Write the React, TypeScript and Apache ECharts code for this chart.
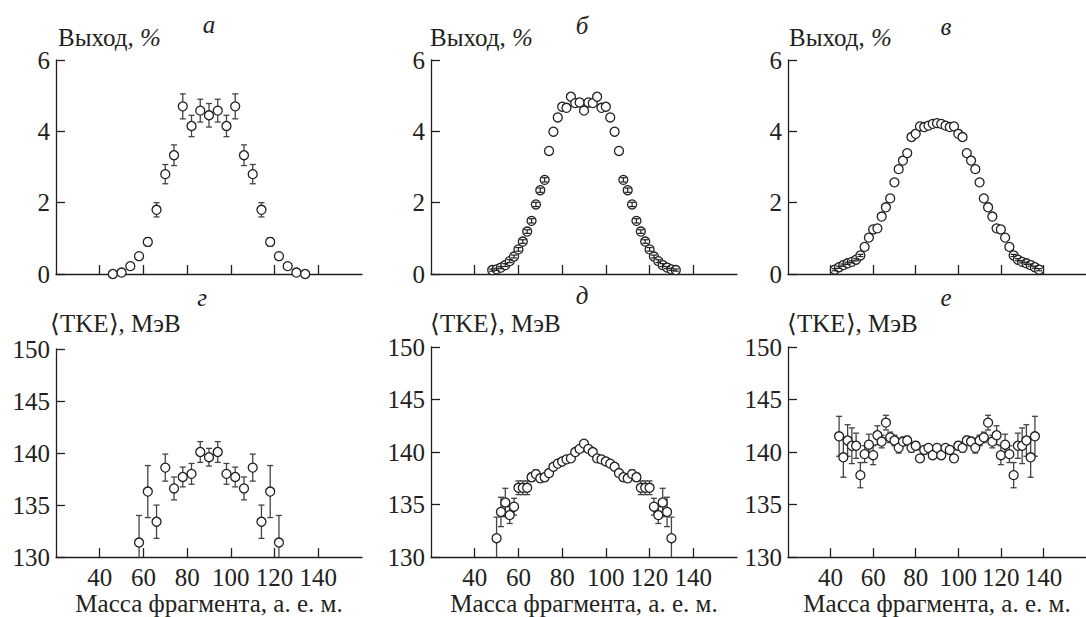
import React, { useEffect, useRef } from "react";
import * as echarts from "echarts";

// ---- data ----
const massA = [46, 50, 54, 58, 62, 66, 70, 74, 78, 82, 86, 90, 94, 98, 102, 106, 110, 114, 118, 122, 126, 130, 134];
const yieldA = [0, 0.04, 0.22, 0.5, 0.9, 1.8, 2.8, 3.33, 4.7, 4.15, 4.58, 4.45, 4.58, 4.15, 4.7, 3.33, 2.8, 1.8, 0.9, 0.5, 0.22, 0.04, 0];
const errA = [0.02, 0.03, 0.05, 0.07, 0.12, 0.2, 0.27, 0.29, 0.35, 0.3, 0.32, 0.33, 0.32, 0.3, 0.35, 0.29, 0.27, 0.2, 0.12, 0.07, 0.05, 0.03, 0.02];

const massB = [48, 50, 52, 54, 56, 58, 60, 62, 64, 66, 68, 70, 72, 74, 76, 78, 80, 82, 84, 86, 88, 90, 92, 94, 96, 98, 100, 102, 104, 106, 108, 110, 112, 114, 116, 118, 120, 122, 124, 126, 128, 130, 132];
const yieldB = [0.11, 0.13, 0.18, 0.25, 0.36, 0.49, 0.69, 0.91, 1.19, 1.49, 1.95, 2.35, 2.64, 3.45, 3.99, 4.39, 4.69, 4.66, 4.97, 4.79, 4.81, 4.58, 4.81, 4.79, 4.97, 4.66, 4.69, 4.39, 3.99, 3.45, 2.64, 2.35, 1.95, 1.49, 1.19, 0.91, 0.69, 0.49, 0.36, 0.25, 0.18, 0.13, 0.11];
const errB = [0.03, 0.03, 0.03, 0.04, 0.04, 0.04, 0.05, 0.05, 0.05, 0.06, 0.06, 0.06, 0.06, 0, 0, 0, 0, 0, 0, 0, 0, 0, 0, 0, 0, 0, 0, 0, 0, 0, 0.06, 0.06, 0.06, 0.06, 0.05, 0.05, 0.05, 0.04, 0.04, 0.04, 0.03, 0.03, 0.03];

const massC = [42, 44, 46, 48, 50, 52, 54, 56, 58, 60, 62, 64, 66, 68, 70, 72, 74, 76, 78, 80, 82, 84, 86, 88, 90, 92, 94, 96, 98, 100, 102, 104, 106, 108, 110, 112, 114, 116, 118, 120, 122, 124, 126, 128, 130, 132, 134, 136, 138];
const yieldC = [0.12, 0.19, 0.25, 0.3, 0.34, 0.4, 0.52, 0.76, 1.02, 1.25, 1.28, 1.61, 1.87, 2.12, 2.57, 2.94, 3.18, 3.39, 3.84, 3.93, 4.14, 4.12, 4.16, 4.21, 4.23, 4.21, 4.16, 4.12, 4.14, 3.93, 3.84, 3.39, 3.18, 2.94, 2.57, 2.12, 1.87, 1.61, 1.28, 1.25, 1.02, 0.76, 0.52, 0.4, 0.34, 0.3, 0.25, 0.19, 0.12];
const errC = [0.03, 0.03, 0.03, 0.03, 0.03, 0.03, 0.03, 0, 0, 0, 0, 0, 0, 0, 0, 0, 0, 0, 0, 0, 0, 0, 0, 0, 0, 0, 0, 0, 0, 0, 0, 0, 0, 0, 0, 0, 0, 0, 0, 0, 0, 0, 0.03, 0.03, 0.03, 0.03, 0.03, 0.03, 0.03];

const massG = [58, 62, 66, 70, 74, 78, 82, 86, 90, 94, 98, 102, 106, 110, 114, 118, 122];
const tkeG = [131.4, 136.3, 133.4, 138.6, 136.6, 137.7, 138.0, 140.1, 139.6, 140.1, 138.0, 137.7, 136.6, 138.6, 133.4, 136.3, 131.4];
const errG = [2.6, 2.5, 1.6, 1.3, 1.1, 0.95, 1.0, 1.0, 0.85, 1.0, 1.0, 0.95, 1.1, 1.3, 1.6, 2.5, 2.6];

const massD = [50, 52, 54, 56, 58, 60, 62, 64, 66, 68, 70, 72, 74, 76, 78, 80, 82, 84, 86, 88, 90, 92, 94, 96, 98, 100, 102, 104, 106, 108, 110, 112, 114, 116, 118, 120, 122, 124, 126, 128, 130];
const tkeD = [131.8, 134.3, 135.2, 134.0, 134.8, 136.6, 136.6, 136.6, 137.6, 137.9, 137.5, 137.6, 138.0, 138.6, 138.9, 139.1, 139.3, 139.4, 140.0, 140.3, 140.8, 140.3, 140.0, 139.4, 139.3, 139.1, 138.9, 138.6, 138.0, 137.6, 137.5, 137.9, 137.6, 136.6, 136.6, 136.6, 134.8, 134.0, 135.2, 134.3, 131.8];
const errD = [2.0, 1.4, 1.35, 0.8, 0.8, 0.65, 0.65, 0.65, 0.4, 0.4, 0.35, 0.35, 0.3, 0.3, 0.3, 0.3, 0.25, 0.25, 0.25, 0.25, 0.25, 0.25, 0.25, 0.25, 0.25, 0.3, 0.3, 0.3, 0.3, 0.35, 0.35, 0.4, 0.4, 0.65, 0.65, 0.65, 0.8, 0.8, 1.35, 1.4, 2.0];

const massE = [44, 46, 48, 50, 52, 54, 56, 58, 60, 62, 64, 66, 68, 70, 72, 74, 76, 78, 80, 82, 84, 86, 88, 90, 92, 94, 96, 98, 100, 102, 104, 106, 108, 110, 112, 114, 116, 118, 120, 122, 124, 126, 128, 130, 132, 134, 136];
const tkeE = [141.5, 139.5, 141.1, 140.6, 140.6, 137.8, 139.8, 140.7, 139.7, 141.6, 141.0, 142.8, 141.4, 141.1, 140.4, 141.0, 141.1, 140.4, 140.6, 139.4, 140.2, 140.4, 139.7, 140.4, 139.7, 140.4, 140.2, 139.4, 140.6, 140.4, 141.1, 141.0, 140.4, 141.1, 141.4, 142.8, 141.0, 141.6, 139.7, 140.7, 139.8, 137.8, 140.6, 140.6, 141.1, 139.5, 141.5];
const errE = [1.9, 1.9, 1.5, 1.7, 1.2, 1.2, 0.8, 1.0, 0.9, 0.9, 0.6, 0.7, 0.5, 0.5, 0.5, 0.4, 0.4, 0.4, 0.4, 0.35, 0.3, 0.3, 0.3, 0.3, 0.3, 0.3, 0.3, 0.35, 0.4, 0.4, 0.4, 0.4, 0.5, 0.5, 0.5, 0.7, 0.6, 0.9, 0.9, 1.0, 0.8, 1.2, 1.2, 1.7, 1.5, 1.9, 1.9];

const xTicks = [40, 60, 80, 100, 120, 140];
const panelLetters = ["а", "б", "в", "г", "д", "е"];
const yNameTop = "Выход, ";
const yNameBottom = "⟨TKE⟩, МэВ";
const xName = "Масса фрагмента, а. е. м.";

const INK = "#231f20";
const FONT = "Liberation Serif";
const FS = 25;

type Panel = { mass: number[]; val: number[]; err: number[]; barsOnTop: boolean };
const panels: Panel[] = [
  { mass: massA, val: yieldA, err: errA, barsOnTop: false },
  { mass: massB, val: yieldB, err: errB, barsOnTop: true },
  { mass: massC, val: yieldC, err: errC, barsOnTop: true },
  { mass: massG, val: tkeG, err: errG, barsOnTop: false },
  { mass: massD, val: tkeD, err: errD, barsOnTop: false },
  { mass: massE, val: tkeE, err: errE, barsOnTop: false },
];

const grids = [
  { left: 56, top: 60, width: 306, height: 214 },
  { left: 431, top: 60, width: 306, height: 214 },
  { left: 788, top: 60, width: 306, height: 214 },
  { left: 56, top: 349, width: 306, height: 210 },
  { left: 431, top: 347, width: 306, height: 212 },
  { left: 788, top: 347, width: 306, height: 212 },
];

export default function App() {
  const ref = useRef<HTMLDivElement>(null);
  useEffect(() => {
    if (!ref.current) return;
    const chart = echarts.init(ref.current, undefined, { renderer: "svg" });

    const xAxis = grids.map((_, i) => ({
      gridIndex: i,
      type: "value",
      min: 20,
      max: 160,
      interval: 20,
      axisLine: { onZero: false, lineStyle: { color: INK, width: 1.3 } },
      axisTick: { inside: true, length: 9, customValues: xTicks, lineStyle: { color: INK, width: 1.3 } },
      axisLabel: {
        show: i >= 3,
        customValues: xTicks,
        color: INK,
        fontFamily: FONT,
        fontSize: FS,
        margin: 8,
      },
      splitLine: { show: false },
      name: i >= 3 ? xName : "",
      nameLocation: "middle",
      nameGap: 31,
      nameTextStyle: { color: INK, fontFamily: FONT, fontSize: FS },
    }));

    const yAxis = grids.map((_, i) => ({
      gridIndex: i,
      type: "value",
      min: i < 3 ? 0 : 130,
      max: i < 3 ? 6 : 150,
      interval: i < 3 ? 2 : 5,
      axisLine: { show: true, onZero: false, lineStyle: { color: INK, width: 1.3 } },
      axisTick: { show: true, inside: true, length: 9, lineStyle: { color: INK, width: 1.3 } },
      axisLabel: { color: INK, fontFamily: FONT, fontSize: FS, margin: 6 },
      splitLine: { show: false },
    }));

    const series: any[] = [];
    panels.forEach((p, i) => {
      const barData = p.mass
        .map((m, k) => [m, p.val[k] - p.err[k], p.val[k] + p.err[k], p.err[k]])
        .filter((d) => d[3] > 0);
      series.push({
        type: "custom",
        xAxisIndex: i,
        yAxisIndex: i,
        clip: true,
        z: p.barsOnTop ? 5 : 2,
        silent: true,
        encode: { x: 0, y: [1, 2] },
        data: barData,
        renderItem: (params: any, api: any) => {
          const x = api.value(0);
          const lo = api.value(1);
          const hi = api.value(2);
          const a = api.coord([x, hi]);
          const b = api.coord([x, lo]);
          const w = 3;
          const st = { stroke: p.barsOnTop ? INK : "#444", lineWidth: p.barsOnTop ? 1.2 : 1.3 };
          return {
            type: "group",
            children: [
              { type: "line", shape: { x1: a[0], y1: a[1], x2: b[0], y2: b[1] }, style: st },
              { type: "line", shape: { x1: a[0] - w, y1: a[1], x2: a[0] + w, y2: a[1] }, style: st },
              { type: "line", shape: { x1: b[0] - w, y1: b[1], x2: b[0] + w, y2: b[1] }, style: st },
            ],
          };
        },
      });
      series.push({
        type: "scatter",
        xAxisIndex: i,
        yAxisIndex: i,
        z: 3,
        symbol: "circle",
        symbolSize: 9,
        itemStyle: { color: "#ffffff", borderColor: INK, borderWidth: 1.3, opacity: 1 },
        data: p.mass.map((m, k) => [m, p.val[k]]),
      });
    });

    const letterPos = [
      [209, 24], [582, 25], [946, 26],
      [202, 297], [582, 295], [946, 297],
    ];
    const yNamePos = [
      [58, 37], [430, 37], [789, 37],
      [50, 323], [430, 323], [787, 323],
    ];
    const graphic: any[] = [];
    letterPos.forEach((pos, i) => {
      graphic.push({
        type: "text",
        x: pos[0],
        y: pos[1],
        style: {
          text: panelLetters[i],
          fontFamily: FONT,
          fontSize: FS,
          fontStyle: "italic",
          fill: INK,
          align: "center",
          verticalAlign: "middle",
        },
      });
    });
    yNamePos.forEach((pos, i) => {
      graphic.push({
        type: "text",
        x: pos[0],
        y: pos[1],
        style: i < 3
          ? {
              text: `{a|${yNameTop}}{b|%}`,
              rich: {
                a: { fontFamily: FONT, fontSize: FS, fill: INK },
                b: { fontFamily: FONT, fontSize: FS, fontStyle: "italic", fill: INK },
              },
              fill: INK,
              fontFamily: FONT,
              fontSize: FS,
              align: "left",
              verticalAlign: "middle",
            }
          : {
              text: yNameBottom,
              fontFamily: FONT,
              fontSize: FS,
              fill: INK,
              align: "left",
              verticalAlign: "middle",
            },
      });
    });

    chart.setOption({
      animation: false,
      backgroundColor: "#ffffff",
      grid: grids,
      xAxis,
      yAxis,
      series,
      graphic,
    });
    return () => chart.dispose();
  }, []);

  return <div ref={ref} style={{ position: "fixed", left: 0, top: 0, width: 1086, height: 617 }} />;
}
